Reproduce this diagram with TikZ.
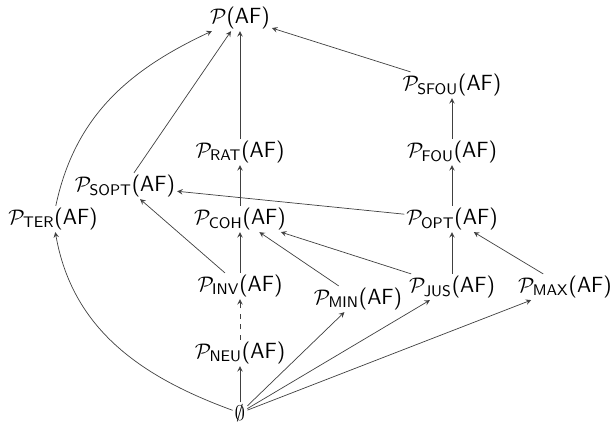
\documentclass[tikz,border=0pt]{standalone}
\usepackage{amsmath,amssymb}
\renewcommand{\familydefault}{\sfdefault}
\newcommand{\sem}[1]{$\mathcal{P}_{\textsf{#1}}$(AF)}
\begin{document}
\begin{tikzpicture}[x=0.02cm, y=-0.02cm, font=\fontsize{12.5}{15}\selectfont,
	sem/.style={inner sep=1pt},
	edge/.style={->, >=stealth, black!75, thin}]
	\useasboundingbox (0,0) rectangle (615,428);
	\node (top) [sem] at (240,18) {$\mathcal{P}$(AF)};
	\node (sfou) [sem] at (452,85) {\sem{SFOU}};
	\node (rat) [sem] at (240,152) {\sem{RAT}};
	\node (fou) [sem] at (452,152) {\sem{FOU}};
	\node (sopt) [sem] at (125,186) {\sem{SOPT}};
	\node (ter) [sem] at (53,219) {\sem{TER}};
	\node (coh) [sem] at (240,219) {\sem{COH}};
	\node (opt) [sem] at (452,219) {\sem{OPT}};
	\node (inv) [sem] at (240,286) {\sem{INV}};
	\node (min) [sem] at (358,299) {\sem{MIN}};
	\node (jus) [sem] at (452,287) {\sem{JUS}};
	\node (max) [sem] at (565,287) {\sem{MAX}};
	\node (neu) [sem] at (240,353) {\sem{NEU}};
	\node (empty) [sem] at (240,413) {$\emptyset$};

	\draw[edge] (sfou) -- (top);
	\draw[edge] (rat) -- (top);
	\draw[edge] (sopt) -- (top);
	\draw[edge] (ter) to[out=78, in=205] (top);
	\draw[edge] (fou) -- (sfou);
	\draw[edge] (opt) -- (fou);
	\draw[edge] (coh) -- (rat);
	\draw[edge] (opt) -- (sopt);
	\draw[edge] (inv) -- (sopt);
	\draw[edge] (inv) -- (coh);
	\draw[edge] (min) -- (coh);
	\draw[edge] (jus) -- (coh);
	\draw[edge] (jus) -- (opt);
	\draw[edge] (max) -- (opt);
	\draw[edge, dashed] (neu) -- (inv);
	\draw[edge] (empty) -- (neu);
	\draw[edge] (empty) -- (min);
	\draw[edge] (empty) -- (jus);
	\draw[edge] (empty) -- (max);
	\draw[edge] (empty) to[out=160, in=-80] (ter);
\end{tikzpicture}
\end{document}
